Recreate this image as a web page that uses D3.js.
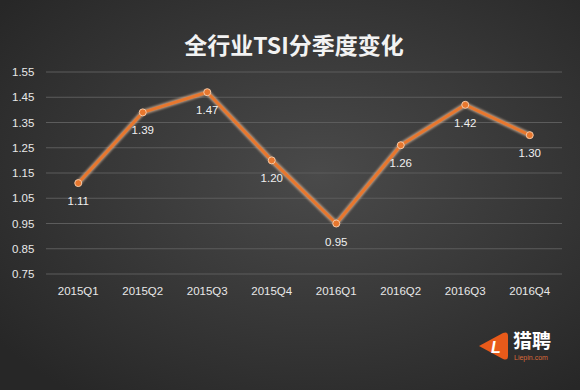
<!DOCTYPE html>
<html>
<head>
<meta charset="utf-8">
<script src="https://cdn.jsdelivr.net/npm/d3@7"></script>
<style>
  body { margin: 0; background: #333; }
  svg { display: block; }
</style>
</head>
<body>
<div id="chart"></div>
<script>
// data
var quarters = ['2015Q1','2015Q2','2015Q3','2015Q4','2016Q1','2016Q2','2016Q3','2016Q4']
var tsi = [1.11, 1.39, 1.47, 1.20, 0.95, 1.26, 1.42, 1.30]
var yTicks = [0.75, 0.85, 0.95, 1.05, 1.15, 1.25, 1.35, 1.45, 1.55]

var width = 580, height = 390
var margin = {top: 72, right: 18, bottom: 116, left: 46}

var svg = d3.select("#chart")
  .append("svg")
  .attr("width", width)
  .attr("height", height)

// background
var defs = svg.append("defs")
var grad = defs.append("radialGradient")
  .attr("id", "bg")
  .attr("cx", "55%").attr("cy", "45%").attr("r", "70%")
grad.append("stop").attr("offset", "0%").attr("stop-color", "#4a4a4a")
grad.append("stop").attr("offset", "100%").attr("stop-color", "#272727")

var glow = defs.append("filter").attr("id", "glow")
  .attr("x", "-5%").attr("y", "-5%").attr("width", "110%").attr("height", "110%")
glow.append("feGaussianBlur").attr("stdDeviation", 1.2)

svg.append("rect")
  .attr("width", width).attr("height", height)
  .attr("fill", "url(#bg)")

var g = svg.append("g")
  .attr("transform", "translate(" + margin.left + "," + margin.top + ")")

var w = width - margin.left - margin.right,
    h = height - margin.top - margin.bottom

var x = d3.scaleBand()
  .domain(quarters)
  .range([0, w])

var y = d3.scaleLinear()
  .domain([0.75, 1.55])
  .range([h + 0, 0])

// gridlines
g.selectAll(".grid")
  .data(yTicks)
  .enter().append("line")
  .attr("x1", 0).attr("x2", w)
  .attr("y1", function(d) { return y(d) })
  .attr("y2", function(d) { return y(d) })
  .attr("stroke", "#5c5c5c")
  .attr("stroke-width", 1)

// y axis
var yAxis = g.append("g")
  .call(d3.axisLeft(y).tickValues(yTicks).tickFormat(d3.format(".2f")).tickSize(0).tickPadding(10))
yAxis.select(".domain").remove()
yAxis.selectAll("text")
  .attr("fill", "#e8e8e8")
  .style("font-family", "'Liberation Sans', Arial, sans-serif")
  .style("font-size", "11.5px")
  .attr("text-anchor", "start")
  .attr("x", -34)

// x axis
var xAxis = g.append("g")
  .attr("transform", "translate(0," + (h + 13) + ")")
  .call(d3.axisBottom(x).tickSize(0).tickPadding(0))
xAxis.select(".domain").remove()
xAxis.selectAll("text")
  .attr("fill", "#e8e8e8")
  .style("font-family", "'Liberation Sans', Arial, sans-serif")
  .style("font-size", "11.5px")

// line
var line = d3.line()
  .x(function(d, i) { return x(quarters[i]) + x.bandwidth() / 2 })
  .y(function(d) { return y(d) })

g.append("path")
  .datum(tsi)
  .attr("d", line)
  .attr("fill", "none")
  .attr("stroke", "#f3c7a4")
  .attr("stroke-width", 5)
  .attr("stroke-linejoin", "round")
  .attr("filter", "url(#glow)")
  .attr("opacity", 0.7)

g.append("path")
  .datum(tsi)
  .attr("d", line)
  .attr("fill", "none")
  .attr("stroke", "#e8772e")
  .attr("stroke-width", 3)
  .attr("stroke-linejoin", "round")

g.selectAll(".dot")
  .data(tsi)
  .enter().append("circle")
  .attr("cx", function(d, i) { return x(quarters[i]) + x.bandwidth() / 2 })
  .attr("cy", function(d) { return y(d) })
  .attr("r", 3.5)
  .attr("fill", "#e8772e")
  .attr("stroke", "#f6c9a6")
  .attr("stroke-width", 1)

// value labels
g.selectAll(".lbl")
  .data(tsi)
  .enter().append("text")
  .attr("x", function(d, i) { return x(quarters[i]) + x.bandwidth() / 2 })
  .attr("y", function(d) { return y(d) + 22 })
  .attr("text-anchor", "middle")
  .attr("fill", "#f0f0f0")
  .style("font-family", "'Liberation Sans', Arial, sans-serif")
  .style("font-size", "11.5px")
  .text(function(d) { return d3.format(".2f")(d) })

// title
svg.append("text")
  .attr("x", 294)
  .attr("y", 54)
  .attr("text-anchor", "middle")
  .attr("fill", "#f2f2f2")
  .style("font-family", "'Noto Sans CJK SC', sans-serif")
  .style("font-weight", "bold")
  .style("font-size", "23px")
  .text("全行业TSI分季度变化")

// logo
var logo = svg.append("g").attr("transform", "translate(477,332)")
logo.append("path")
  .attr("d", "M2,14 L26,1 Q31,-1 31,4 L31,24 Q31,29 26,27 Z")
  .attr("fill", "#e85a1a")
logo.append("text")
  .attr("x", 19).attr("y", 21)
  .attr("text-anchor", "middle")
  .attr("fill", "#ffffff")
  .style("font-family", "'Liberation Sans', Arial, sans-serif")
  .style("font-weight", "bold")
  .style("font-size", "16px")
  .style("font-style", "italic")
  .text("L")
logo.append("text")
  .attr("x", 36).attr("y", 16)
  .attr("fill", "#ffffff")
  .style("font-family", "'Noto Sans CJK SC', sans-serif")
  .style("font-weight", "bold")
  .style("font-size", "19px")
  .text("猎聘")
logo.append("text")
  .attr("x", 37).attr("y", 28)
  .attr("fill", "#d86a3a")
  .style("font-family", "'Liberation Sans', Arial, sans-serif")
  .style("font-size", "7px")
  .text("Liepin.com")
</script>
</body>
</html>
